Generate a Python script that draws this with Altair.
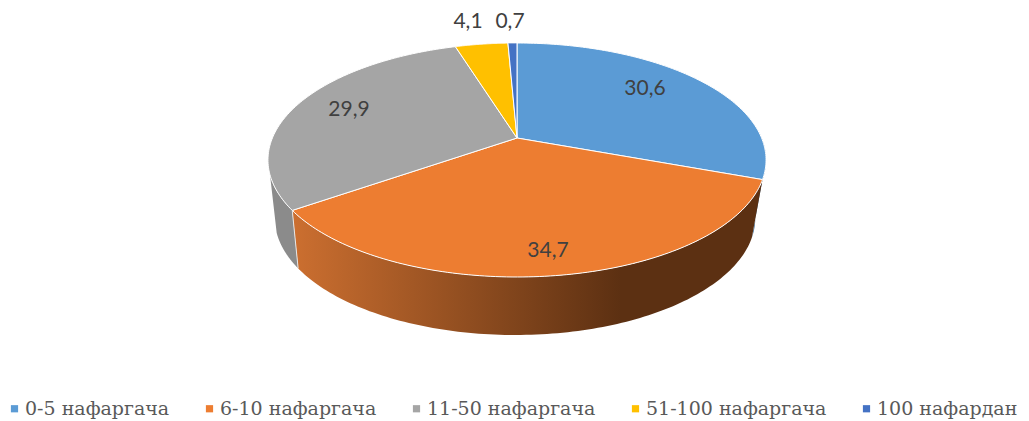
import math
import altair as alt

categories = ["0-5 нафаргача", "6-10 нафаргача", "11-50 нафаргача", "51-100 нафаргача", "100 нафардан"]
values = [30.6, 34.7, 29.9, 4.1, 0.7]
colors = ["#5B9BD5", "#ED7D31", "#A5A5A5", "#FFC000", "#4472C4"]

label_pos = [(637, 81), (540, 243), (341, 102), (460, 14), (502, 14)]

CX, CY, RY, OFF, C, D_TOP, D_BOT, DEPTH, CX_BOT = 517, 160, 117, -22, -0.188, 244.6, 236, 58, 515


def top(t):
    u, v = math.sin(t), -math.cos(t)
    w = 1 + C * v
    return [CX + D_TOP * u / w, CY + (RY * v + OFF) / w]


def bottom(t):
    u, v = math.sin(t), -math.cos(t)
    w = 1 + C * v
    return [CX_BOT + D_BOT * u / w, CY + DEPTH + (RY * v + OFF) / w]


def sweep(a, b, n=120):
    return [a + (b - a) * i / n for i in range(n + 1)]


total = sum(values)
edges = [0.0]
for val in values:
    edges.append(edges[-1] + val / total * 2 * math.pi)


def feature(name, rings):
    return {"type": "Feature", "properties": {"name": name},
            "geometry": {"type": "Polygon", "coordinates": [rings]}}


def as_data(feats):
    return alt.InlineData(values={"type": "FeatureCollection", "features": feats},
                          format=alt.DataFormat(type="json", property="features"))


def wall(a, b):
    ts = sweep(a, b)
    ring = [top(t) for t in ts] + [bottom(t) for t in reversed(ts)]
    return feature("wall", ring + [ring[0]])


def slice_shape(name, a, b):
    ring = [[CX, CY + OFF]] + [top(t) for t in sweep(a, b)] + [[CX, CY + OFF]]
    return feature(name, ring)


proj = dict(type="identity", scale=1, translate=[-8, -8])

grad = alt.LinearGradient(
    gradient="linear", x1=0, x2=1, y1=0, y2=0,
    stops=[alt.GradientStop(offset=0, color="#CC6F30"),
           alt.GradientStop(offset=0.7, color="#5C3012"),
           alt.GradientStop(offset=1, color="#5C3012")])

layers = []
# side walls: blue sliver, grey and orange
layers.append(alt.Chart(as_data([wall(math.radians(85), edges[1])])).mark_geoshape(
    fill="#3F6E99", stroke=None).project(**proj))
layers.append(alt.Chart(as_data([wall(edges[2], math.radians(252))])).mark_geoshape(
    fill="#8B8B8B", stroke=None).project(**proj))
layers.append(alt.Chart(as_data([wall(edges[1], edges[2])])).mark_geoshape(
    fill=grad, stroke=None).project(**proj))
# edge between grey and orange walls
edge_ring = [top(edges[2]), bottom(edges[2])]
layers.append(alt.Chart(as_data([{
    "type": "Feature", "properties": {"name": "edge"},
    "geometry": {"type": "LineString", "coordinates": edge_ring}}])).mark_geoshape(
    filled=False, stroke="#E6E6E6", strokeWidth=1).project(**proj))

# top face
slices = [slice_shape(c, edges[i], edges[i + 1]) for i, c in enumerate(categories)]
layers.append(alt.Chart(as_data(slices)).mark_geoshape(
    stroke="#FFFFFF", strokeWidth=1).encode(
    color=alt.Color("properties.name:N",
                    scale=alt.Scale(domain=categories, range=colors),
                    legend=alt.Legend(
                        title=None, orient="none", legendX=-3, legendY=391,
                        direction="horizontal", columns=5,
                        symbolType="square", symbolSize=52, symbolStrokeWidth=0,
                        labelFont="DejaVu Serif", labelFontSize=19,
                        labelColor="#595959", labelLimit=300,
                        columnPadding=30, symbolOffset=0, labelOffset=1))
).project(**proj))

# value labels
for val, (lx, ly) in zip(values, label_pos):
    layers.append(alt.Chart(alt.Data(values=[{"t": str(val).replace(".", ",")}])).mark_text(
        font="Lato", fontSize=21, color="#404040", align="center", baseline="middle").encode(
        text="t:N", x=alt.value(lx), y=alt.value(ly)))

chart = alt.layer(*layers).properties(
    width=1013, height=413, padding=0, autosize=alt.AutoSizeParams(type="none"),
    background="#FFFFFF"
).configure_view(stroke=None)

chart.save("out.html", embed_options={"renderer": "svg", "actions": False})
